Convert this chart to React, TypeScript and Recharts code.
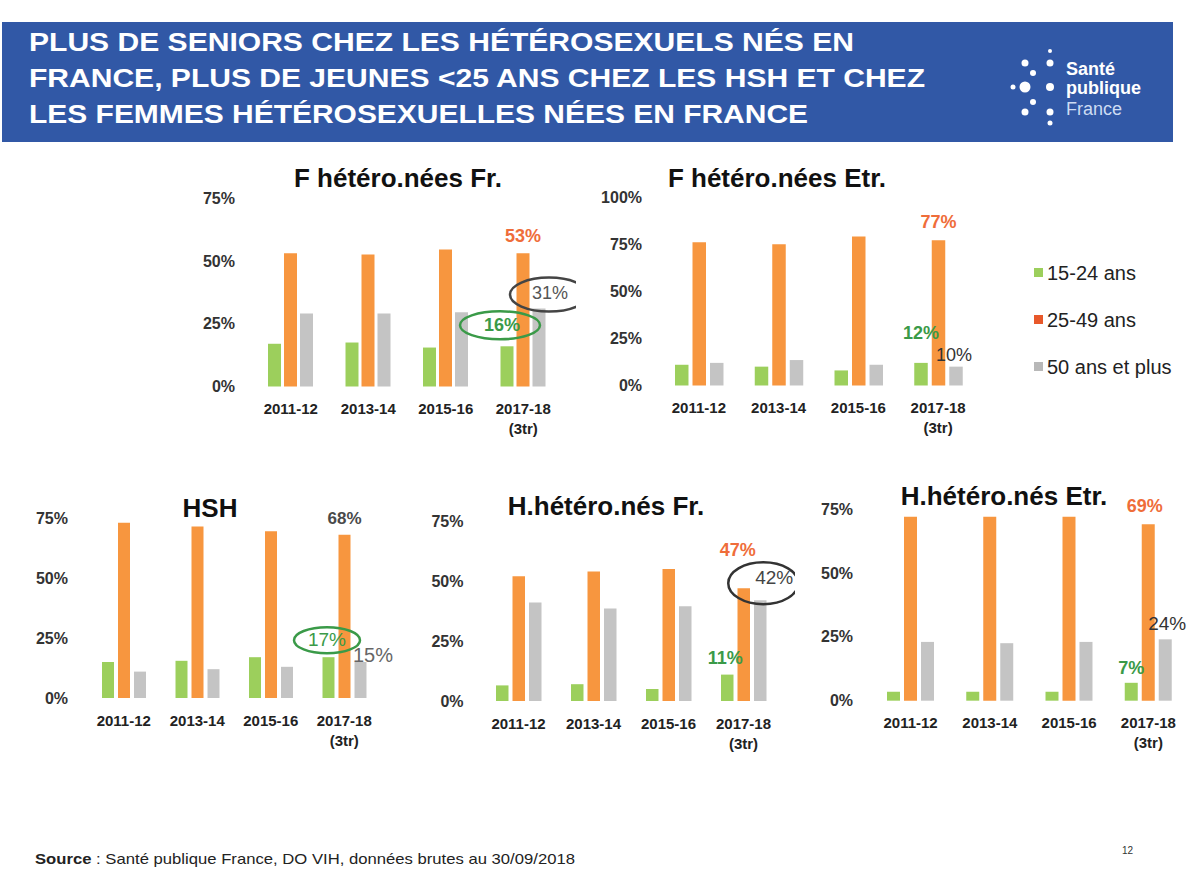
import React from "react";
import { Bar, BarChart, LabelList, XAxis, YAxis } from "recharts";

const periods = ["2011-12", "2013-14", "2015-16", "2017-18 (3tr)"];

// F hétéro nées en France
const fFrJeunes = [17, 17.5, 15.5, 16];
const fFrAdultes = [53, 52.5, 54.5, 53];
const fFrSeniors = [29, 29, 29.5, 31];

// F hétéro nées à l'étranger
const fEtrJeunes = [11, 10, 8, 12];
const fEtrAdultes = [76, 75, 79, 77];
const fEtrSeniors = [12, 13.5, 11, 10];

// HSH
const hshJeunes = [15, 15.5, 17, 17];
const hshAdultes = [73, 71.5, 69.5, 68];
const hshSeniors = [11, 12, 13, 15];

// H hétéro nés en France
const hFrJeunes = [6.5, 7, 5, 11];
const hFrAdultes = [52, 54, 55, 47];
const hFrSeniors = [41, 38.5, 39.5, 42];

// H hétéro nés à l'étranger
const hEtrJeunes = [3.5, 3.5, 3.5, 7];
const hEtrAdultes = [72, 72, 72, 69];
const hEtrSeniors = [23, 22.5, 23, 24];

const ticks75 = [0, 25, 50, 75];
const ticks100 = [0, 25, 50, 75, 100];

const legendLabels = ["15-24 ans", "25-49 ans", "50 ans et plus"];

const titleLines = [
  "PLUS DE SENIORS CHEZ LES HÉTÉROSEXUELS NÉS EN",
  "FRANCE, PLUS DE JEUNES <25 ANS CHEZ LES HSH ET CHEZ",
  "LES FEMMES HÉTÉROSEXUELLES NÉES EN FRANCE",
];

const GREEN = "#9ccf5c";
const ORANGE = "#f7963f";
const GREY = "#c4c4c4";
const FONT = "'Liberation Sans', Arial, sans-serif";

const toRows = (a: number[], b: number[], c: number[]) =>
  periods.map((p, i) => ({ period: p, jeunes: a[i], adultes: b[i], seniors: c[i] }));

type Ring = { dx: number; dy: number; rx: number; ry: number; color: string };
type Note = { dx: number; dy: number; color: string; size: number; bold?: boolean; ring?: Ring };
type Notes = { jeunes?: Note; adultes?: Note; seniors?: Note };

function noteLabel(note?: Note) {
  return (props: any) => {
    const { x, y, width, value, index } = props;
    if (!note || index !== 3) return null;
    const cx = Number(x) + Number(width) / 2 + note.dx;
    const cy = Number(y) + note.dy;
    return (
      <g>
        <text
          x={cx}
          y={cy}
          textAnchor="middle"
          dominantBaseline="central"
          fontFamily={FONT}
          fontSize={note.size}
          fontWeight={note.bold ? 700 : 400}
          fill={note.color}>
          {Math.round(Number(value))}%
        </text>
        {note.ring && (
          <ellipse
            cx={cx + note.ring.dx}
            cy={cy + note.ring.dy}
            rx={note.ring.rx}
            ry={note.ring.ry}
            fill="none"
            stroke={note.ring.color}
            strokeWidth={2.5}
          />
        )}
      </g>
    );
  };
}

function PeriodTick(props: any) {
  const { x, y, payload } = props;
  const [first, second] = String(payload.value).split(" ");
  const style = { fontFamily: FONT, fontSize: 15, fontWeight: 700, fill: "#222" };
  return (
    <g>
      <text x={x} y={y + 22} textAnchor="middle" dominantBaseline="central" {...style}>
        {first}
      </text>
      {second && (
        <text x={x} y={y + 42} textAnchor="middle" dominantBaseline="central" {...style}>
          {second}
        </text>
      )}
    </g>
  );
}

const YW = 60;
const MT = 30;
const MR = 14;
const XH = 60;

function MiniChart({
  data,
  left,
  top,
  width,
  height,
  max,
  ticks,
  tickMargin,
  barSize,
  barGap,
  notes,
}: {
  data: ReturnType<typeof toRows>;
  left: number;
  top: number;
  width: number;
  height: number;
  max: number;
  ticks: number[];
  tickMargin: number;
  barSize: number;
  barGap: number;
  notes: Notes;
}) {
  return (
    <div style={{ position: "absolute", left: left - YW, top: top - MT }}>
      <BarChart
        width={YW + width + MR}
        height={MT + height + XH}
        data={data}
        margin={{ top: MT, right: MR, left: 0, bottom: 0 }}
        barSize={barSize}
        barGap={barGap}
        style={{ overflow: "visible" }}>
        <XAxis
          dataKey="period"
          axisLine={false}
          tickLine={false}
          tickSize={0}
          tickMargin={0}
          height={XH}
          interval={0}
          tick={<PeriodTick />}
        />
        <YAxis
          width={YW}
          domain={[0, max]}
          ticks={ticks}
          axisLine={false}
          tickLine={false}
          tickSize={0}
          tickMargin={tickMargin}
          tickFormatter={(v) => `${v}%`}
          tick={{ fontFamily: FONT, fontSize: 16, fontWeight: 700, fill: "#333" }}
        />
        <Bar dataKey="jeunes" fill={GREEN} isAnimationActive={false}>
          <LabelList dataKey="jeunes" content={noteLabel(notes.jeunes)} />
        </Bar>
        <Bar dataKey="adultes" fill={ORANGE} isAnimationActive={false}>
          <LabelList dataKey="adultes" content={noteLabel(notes.adultes)} />
        </Bar>
        <Bar dataKey="seniors" fill={GREY} isAnimationActive={false}>
          <LabelList dataKey="seniors" content={noteLabel(notes.seniors)} />
        </Bar>
      </BarChart>
    </div>
  );
}

const noteGreen = "#3a9a48";
const noteOrange = "#ef6d3a";

export default function App() {
  return (
    <div
      style={{
        position: "absolute",
        left: 0,
        top: 0,
        width: 1200,
        height: 895,
        background: "#fff",
        overflow: "hidden",
        fontFamily: FONT,
      }}>
      <svg width={1200} height={895} style={{ position: "absolute", left: 0, top: 0 }}>
        <rect x={2} y={22} width={1171} height={120} fill="#3158a6" />
        {titleLines.map((t, i) => (
          <text
            key={t}
            x={29}
            y={51 + i * 35.8}
            fontFamily={FONT}
            fontSize={26}
            fontWeight={700}
            fill="#fff"
            textLength={[825, 896, 779][i]}
            lengthAdjust="spacingAndGlyphs">
            {t}
          </text>
        ))}
        {/* logo */}
        <g fill="#fff">
          <circle cx={1050} cy={51} r={2} />
          <circle cx={1025} cy={63} r={3.5} />
          <circle cx={1050} cy={63} r={3.5} />
          <circle cx={1033} cy={73} r={3} />
          <circle cx={1013} cy={87} r={2.5} />
          <circle cx={1025} cy={87} r={5.5} />
          <circle cx={1050} cy={87} r={4} />
          <circle cx={1033} cy={102} r={3} />
          <circle cx={1025} cy={112} r={3.5} />
          <circle cx={1050} cy={112} r={3.5} />
          <circle cx={1050} cy={123} r={2.5} />
        </g>
        <text x={1066} y={75} fontFamily={FONT} fontSize={18} fontWeight={700} fill="#fff">
          Santé
        </text>
        <text x={1066} y={94} fontFamily={FONT} fontSize={18} fontWeight={700} fill="#fff">
          publique
        </text>
        <text x={1066} y={115} fontFamily={FONT} fontSize={18} fill="#cddcf3">
          France
        </text>

        {/* chart titles */}
        {[
          { t: "F hétéro.nées Fr.", x: 398, y: 187 },
          { t: "F hétéro.nées Etr.", x: 777, y: 187 },
          { t: "HSH", x: 210, y: 517 },
          { t: "H.hétéro.nés Fr.", x: 606, y: 515 },
          { t: "H.hétéro.nés Etr.", x: 1004, y: 505 },
        ].map((d) => (
          <text
            key={d.t}
            x={d.x}
            y={d.y}
            textAnchor="middle"
            fontFamily={FONT}
            fontSize={26}
            fontWeight={700}
            fill="#111">
            {d.t}
          </text>
        ))}

        {/* legend */}
        {legendLabels.map((l, i) => (
          <g key={l}>
            <rect x={1034} y={268 + i * 47} width={9} height={9} fill={[GREEN, "#e8582a", "#b8b8b8"][i]} />
            <text x={1047} y={280 + i * 47} fontFamily={FONT} fontSize={20} fill="#222">
              {l}
            </text>
          </g>
        ))}

        {/* source */}
        <text
          x={35}
          y={864}
          fontFamily="'Liberation Sans Narrow', 'Liberation Sans', Arial, sans-serif"
          fontSize={15}
          fill="#222"
          textLength={540}
          lengthAdjust="spacingAndGlyphs">
          <tspan fontWeight={700}>Source</tspan> : Santé publique France, DO VIH, données brutes au 30/09/2018
        </text>
        <text x={1122} y={854} fontFamily={FONT} fontSize={10} fill="#333">
          12
        </text>
      </svg>

      <MiniChart
        data={toRows(fFrJeunes, fFrAdultes, fFrSeniors)}
        left={252}
        top={198}
        width={310}
        height={188.5}
        max={75}
        ticks={ticks75}
        tickMargin={17}
        barSize={13}
        barGap={3}
        notes={{
          jeunes: { dx: -5, dy: -21, color: noteGreen, size: 18, bold: true, ring: { dx: -2, dy: 0, rx: 40, ry: 14, color: noteGreen } },
          adultes: { dx: 0, dy: -17, color: noteOrange, size: 18, bold: true },
          seniors: { dx: 11, dy: -16, color: "#555", size: 18, ring: { dx: -1, dy: 2, rx: 39, ry: 17, color: "#444" } },
        }}
      />
      <MiniChart
        data={toRows(fEtrJeunes, fEtrAdultes, fEtrSeniors)}
        left={659}
        top={197}
        width={319}
        height={188.5}
        max={100}
        ticks={ticks100}
        tickMargin={17}
        barSize={13.5}
        barGap={4}
        notes={{
          jeunes: { dx: 0, dy: -30, color: noteGreen, size: 18, bold: true },
          adultes: { dx: 0, dy: -18, color: noteOrange, size: 18, bold: true },
          seniors: { dx: -2, dy: -12, color: "#333", size: 18 },
        }}
      />
      <MiniChart
        data={toRows(hshJeunes, hshAdultes, hshSeniors)}
        left={87}
        top={518}
        width={294}
        height={180}
        max={75}
        ticks={ticks75}
        tickMargin={19}
        barSize={12}
        barGap={4}
        notes={{
          jeunes: { dx: -1.5, dy: -18, color: noteGreen, size: 19, ring: { dx: 0, dy: 1, rx: 33, ry: 13, color: noteGreen } },
          adultes: { dx: 0, dy: -16, color: "#4a4a4a", size: 17, bold: true },
          seniors: { dx: 12.5, dy: -7, color: "#666", size: 20 },
        }}
      />
      <MiniChart
        data={toRows(hFrJeunes, hFrAdultes, hFrSeniors)}
        left={480.5}
        top={520.5}
        width={300}
        height={180}
        max={75}
        ticks={ticks75}
        tickMargin={17.5}
        barSize={12.5}
        barGap={4}
        notes={{
          jeunes: { dx: -2, dy: -17, color: noteGreen, size: 18, bold: true },
          adultes: { dx: -6, dy: -38, color: noteOrange, size: 18, bold: true },
          seniors: { dx: 14, dy: -23, color: "#444", size: 19, ring: { dx: -11, dy: 6, rx: 35, ry: 21, color: "#333" } },
        }}
      />
      <MiniChart
        data={toRows(hEtrJeunes, hEtrAdultes, hEtrSeniors)}
        left={871}
        top={509}
        width={317}
        height={191.7}
        max={75}
        ticks={ticks75}
        tickMargin={18}
        barSize={13}
        barGap={4}
        notes={{
          jeunes: { dx: 0, dy: -15, color: noteGreen, size: 18, bold: true },
          adultes: { dx: -3.5, dy: -18, color: noteOrange, size: 18, bold: true },
          seniors: { dx: 2, dy: -16, color: "#333", size: 19 },
        }}
      />
    </div>
  );
}
